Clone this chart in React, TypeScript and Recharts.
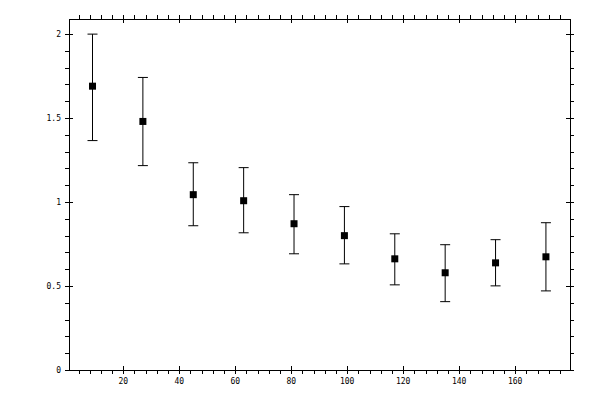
import React from "react";
import { ComposedChart, Scatter, XAxis, YAxis, ErrorBar } from "recharts";

const xValues = [9, 27, 45, 63, 81, 99, 117, 135, 153, 171];
const yValues = [1.69, 1.48, 1.044, 1.008, 0.871, 0.8, 0.662, 0.579, 0.638, 0.674];
const upperValues = [2.0, 1.742, 1.234, 1.205, 1.044, 0.973, 0.811, 0.746, 0.776, 0.877];
const lowerValues = [1.366, 1.217, 0.859, 0.817, 0.692, 0.632, 0.507, 0.407, 0.501, 0.471];

const xMajorTicks = [20, 40, 60, 80, 100, 120, 140, 160];
const yMajorTicks = [0, 0.5, 1, 1.5, 2];
const xAllTicks = Array.from({ length: 44 }, (_, i) => (i + 1) * 4);
const yAllTicks = Array.from({ length: 21 }, (_, i) => Math.round(i) / 10);

const X_DOMAIN: [number, number] = [0.6, 179.6];
const Y_DOMAIN: [number, number] = [0, 2.09];

const data = xValues.map((x, i) => ({
  x,
  y: yValues[i],
  err: [yValues[i] - lowerValues[i], upperValues[i] - yValues[i]],
}));

const FONT = "'DejaVu Sans Mono', monospace";

const isMajor = (v: number, list: number[]) => list.some((m) => Math.abs(m - v) < 1e-6);

const XTick = (props: any) => {
  const { x, y, payload, side } = props;
  const v = payload.value;
  const major = isMajor(v, xMajorTicks);
  const xx = Math.round(x) + 0.5;
  if (side === "bottom") {
    return (
      <g>
        <line x1={xx} x2={xx} y1={major ? y - 4 : y} y2={y + 4} stroke="#000" shapeRendering="crispEdges" />
        {major && (
          <text x={x} y={y + 11} textAnchor="middle" dominantBaseline="central" fontFamily={FONT} fontSize={8} fill="#000">
            {v}
          </text>
        )}
      </g>
    );
  }
  return (
    <g>
      <line x1={xx} x2={xx} y1={y - 4} y2={major ? y + 4 : y} stroke="#000" shapeRendering="crispEdges" />
    </g>
  );
};

const YTick = (props: any) => {
  const { x, y, payload, side } = props;
  const v = payload.value;
  const major = isMajor(v, yMajorTicks);
  const yy = Math.round(y) + 0.5;
  if (side === "left") {
    return (
      <g>
        <line x1={x - 4} x2={major ? x + 4 : x} y1={yy} y2={yy} stroke="#000" shapeRendering="crispEdges" />
        {major && (
          <text x={x - 8} y={y} textAnchor="end" dominantBaseline="central" fontFamily={FONT} fontSize={8} fill="#000">
            {v}
          </text>
        )}
      </g>
    );
  }
  return (
    <g>
      <line x1={major ? x - 4 : x} x2={x + 4} y1={yy} y2={yy} stroke="#000" shapeRendering="crispEdges" />
    </g>
  );
};

const SquareShape = (props: any) => {
  const { cx, cy } = props;
  return <rect x={cx - 3.5} y={cy - 3.5} width={7} height={7} fill="#000" />;
};

const axisLine = { stroke: "#000", shapeRendering: "crispEdges" };

export default function App() {
  return (
    <div style={{ position: "absolute", left: 0, top: 0, width: 600, height: 400, background: "#fff" }}>
      <ComposedChart width={600} height={400} data={data} margin={{ top: 0, right: 0, bottom: 0, left: 0 }}>
        <XAxis
          xAxisId="b"
          dataKey="x"
          type="number"
          orientation="bottom"
          domain={X_DOMAIN}
          allowDataOverflow
          ticks={xAllTicks}
          interval={0}
          height={30}
          tickSize={0}
          tickMargin={0}
          tickLine={false}
          axisLine={axisLine}
          tick={(p: any) => <XTick {...p} side="bottom" />}
        />
        <XAxis
          xAxisId="t"
          dataKey="x"
          type="number"
          orientation="top"
          domain={X_DOMAIN}
          allowDataOverflow
          ticks={xAllTicks}
          interval={0}
          height={19}
          tickSize={0}
          tickMargin={0}
          tickLine={false}
          axisLine={axisLine}
          tick={(p: any) => <XTick {...p} side="top" />}
        />
        <YAxis
          yAxisId="l"
          type="number"
          orientation="left"
          domain={Y_DOMAIN}
          allowDataOverflow
          ticks={yAllTicks}
          interval={0}
          width={69}
          tickSize={0}
          tickMargin={0}
          tickLine={false}
          axisLine={axisLine}
          tick={(p: any) => <YTick {...p} side="left" />}
        />
        <YAxis
          yAxisId="r"
          type="number"
          orientation="right"
          domain={Y_DOMAIN}
          allowDataOverflow
          ticks={yAllTicks}
          interval={0}
          width={30}
          tickSize={0}
          tickMargin={0}
          tickLine={false}
          axisLine={axisLine}
          tick={(p: any) => <YTick {...p} side="right" />}
        />
        <Scatter
          xAxisId="b"
          yAxisId="l"
          dataKey="y"
          fill="#000"
          shape={<SquareShape />}
          isAnimationActive={false}
        >
          <ErrorBar dataKey="err" direction="y" width={5} stroke="#000" strokeWidth={1} isAnimationActive={false} />
        </Scatter>
      </ComposedChart>
    </div>
  );
}
